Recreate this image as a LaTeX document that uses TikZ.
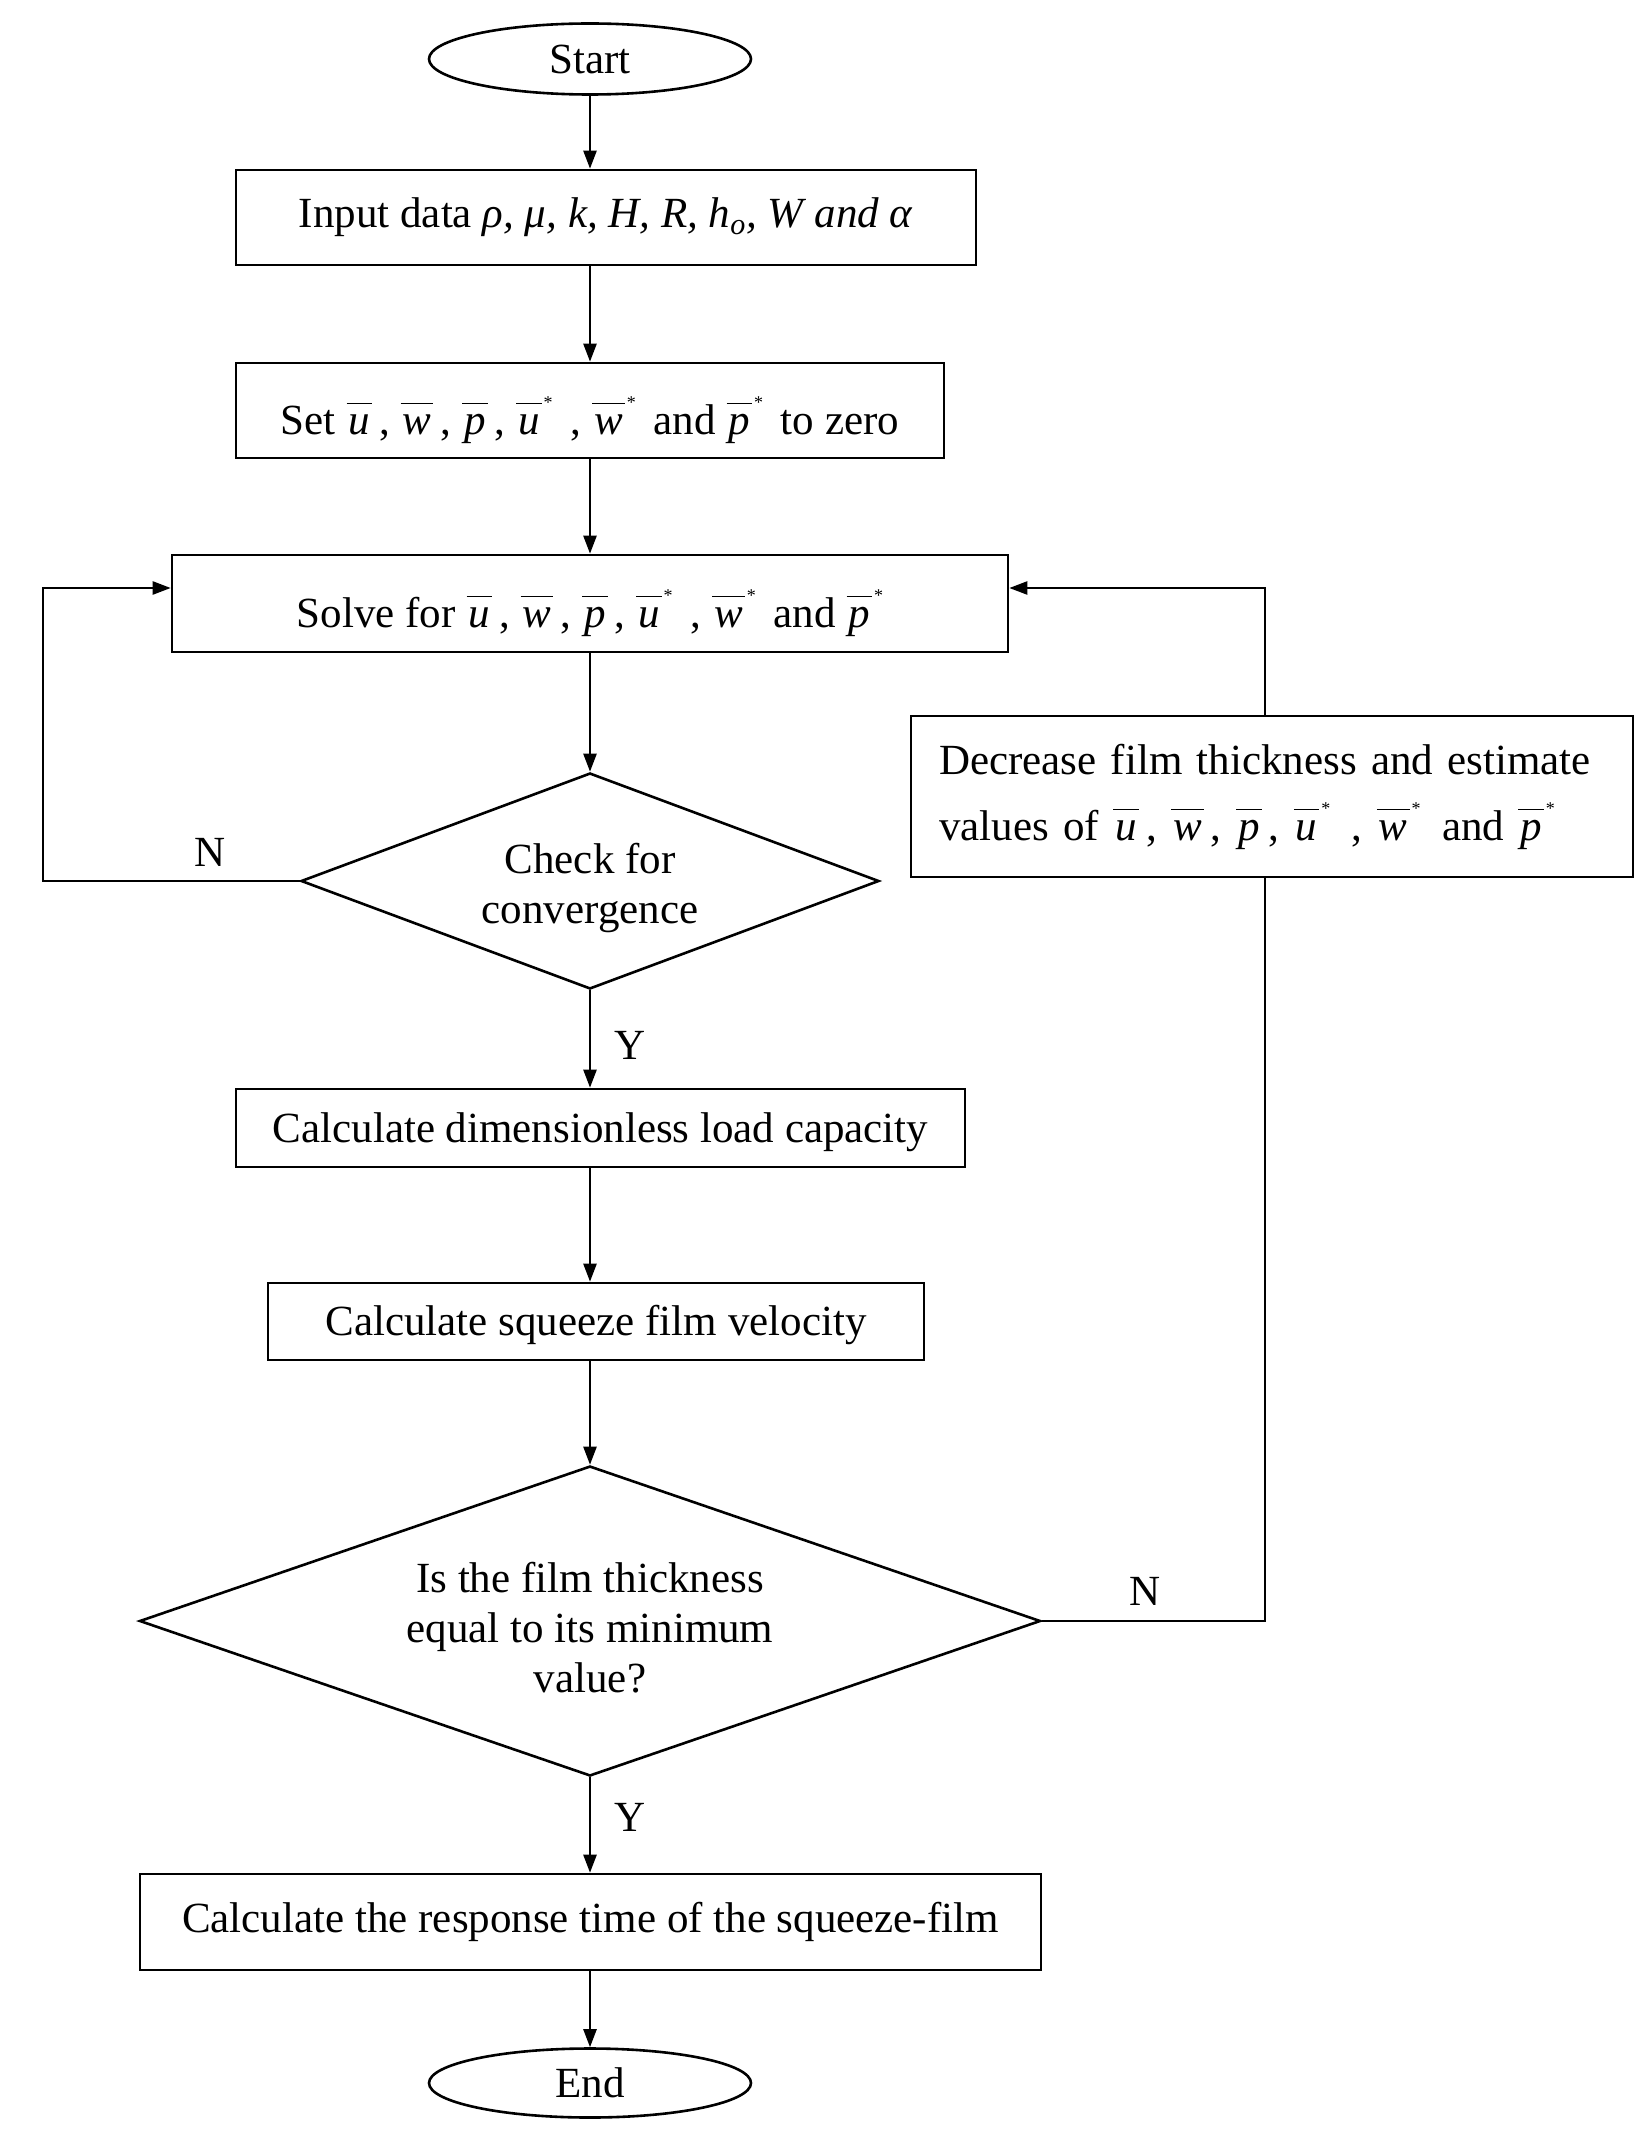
\documentclass[tikz,border=0pt]{standalone}
\usepackage{fontspec}
\setmainfont{Liberation Serif}
\usetikzlibrary{shapes.geometric,arrows.meta}
\newcommand\bl[1]{\ensuremath{\overline{\mbox{\itshape\kern1pt#1\kern1pt}\vphantom{H}}}}
\newcommand\bls[1]{\bl{#1}\kern1pt\raisebox{0.6em}{\small *}}
\begin{document}
\begin{tikzpicture}[x=0.5pt,y=-0.5pt,
  every node/.style={font=\fontsize{21.5pt}{25pt}\selectfont},
  box/.style={draw, line width=1.3pt, rectangle, inner sep=0pt, align=center},
  term/.style={draw, ellipse, line width=1.3pt, inner sep=0pt, minimum width=161pt},
  decision/.style={draw, diamond, line width=1.3pt, inner sep=0pt, align=center},
  flow/.style={line width=1.2pt, -{Triangle[length=9pt,width=6.5pt]}},
  link/.style={line width=1.2pt},
  lbl/.style={inner sep=0pt}]
\fill[white] (0,0) rectangle (1647,2156);
\useasboundingbox (0,0) rectangle (1647,2156);

\node[term, minimum height=35.5pt] (start) at (590,59) {Start};
\node[box, minimum width=370pt, minimum height=47.5pt] (input) at (606,217.5)
  {Input data \textit{ρ, μ, k, H, R, h\textsubscript{o}, W and α}};
\node[box, minimum width=354pt, minimum height=47.5pt, text height=24pt, text depth=0pt] (set) at (590,410.5)
  {Set \bl{u}\,, \bl{w}\,, \bl{p}\,, \bls{u}\ \,, \bls{w}\, and \bls{p}\, to zero};
\node[box, minimum width=418pt, minimum height=48.5pt, text height=24pt, text depth=0pt] (solve) at (590,603.5)
  {Solve for \bl{u}\,, \bl{w}\,, \bl{p}\,, \bls{u}\ \,, \bls{w}\, and \bls{p}};
\node[decision, aspect=2.68, minimum width=289pt, minimum height=108pt] (check) at (590,881)
  {\rule{0pt}{22pt}Check for\\convergence};
\node[box, minimum width=361pt, minimum height=80.5pt, align=left, text width=333pt] (decr) at (1272,796.5)
  {Decrease film thickness and estimate\\[8pt]
   \mbox{values of \bl{u}\,, \bl{w}\,, \bl{p}\,, \bls{u}\ \,, \bls{w}\, and \bls{p}}\\[16pt]};
\node[box, minimum width=364.5pt, minimum height=39pt, text height=16pt, text depth=1.6pt] (load) at (600.5,1128)
  {Calculate dimensionless load capacity};
\node[box, minimum width=328pt, minimum height=38.5pt, text height=16pt, text depth=1.6pt] (vel) at (596,1321.5)
  {Calculate squeeze film velocity};
\node[decision, aspect=2.9, minimum width=450.5pt, minimum height=155pt] (isdiam) at (590,1621)
  {\rule{0pt}{22pt}Is the film thickness\\equal to its minimum\\value?};
\node[box, minimum width=450.5pt, minimum height=48pt] (resp) at (590.5,1922)
  {Calculate the response time of the squeeze-film};
\node[term, minimum height=34.5pt] (end) at (590,2083) {End};

\coordinate (lp) at (43,588);
\coordinate (rp) at (1265,588);

\draw[flow] (start) -- (start |- input.north);
\draw[flow] (start |- input.south) -- (start |- set.north);
\draw[flow] (start |- set.south) -- (start |- solve.north);
\draw[flow] (start |- solve.south) -- (check.north);
\draw[flow] (check.south) -- (start |- load.north);
\draw[flow] (start |- load.south) -- (start |- vel.north);
\draw[flow] (start |- vel.south) -- (isdiam.north);
\draw[flow] (isdiam.south) -- (start |- resp.north);
\draw[flow] (start |- resp.south) -- (end.north);

\draw[flow] (check.west) -- (check.west -| lp) -- (lp) -- (lp -| solve.west);
\draw[link] (isdiam.east) -- (isdiam.east -| rp) -- (rp |- decr.south);
\draw[flow] (rp |- decr.north) -- (rp) -- (rp -| solve.east);

\node[lbl] (n1) at (210,852) {N};
\node[lbl] (y1) at (630,1045) {Y};
\node[lbl] (n2) at (1145,1591) {N};
\node[lbl] (y2) at (630,1817) {Y};
\end{tikzpicture}
\end{document}
